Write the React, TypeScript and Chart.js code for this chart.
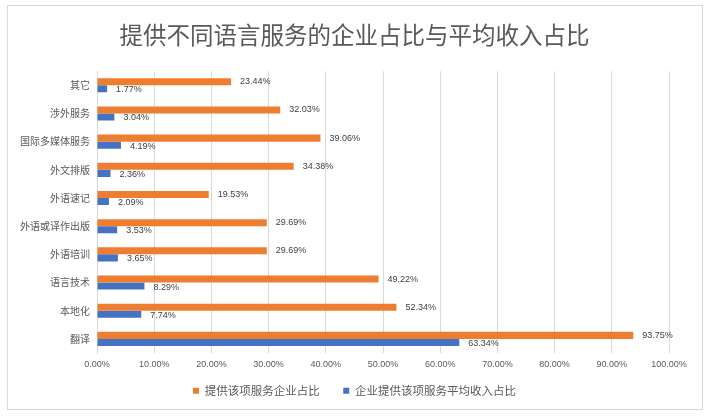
import React, { useEffect, useRef } from "react";
import { Chart, registerables } from "chart.js";

Chart.register(...registerables);

const title = "提供不同语言服务的企业占比与平均收入占比";
const categories = ["其它", "涉外服务", "国际多媒体服务", "外文排版", "外语速记", "外语或译作出版", "外语培训", "语言技术", "本地化", "翻译"];
const seriesNames = ["提供该项服务企业占比", "企业提供该项服务平均收入占比"];
const companyShare = [23.44, 32.03, 39.06, 34.38, 19.53, 29.69, 29.69, 49.22, 52.34, 93.75];
const revenueShare = [1.77, 3.04, 4.19, 2.36, 2.09, 3.53, 3.65, 8.29, 7.74, 63.34];
const xTicks = [0, 10, 20, 30, 40, 50, 60, 70, 80, 90, 100];

const NUM = "'Liberation Sans', sans-serif";
const CJK = "'Noto Sans CJK SC', 'Liberation Sans', sans-serif";

const dataLabels = {
  id: "dataLabels",
  afterDatasetsDraw(chart: any) {
    const ctx = chart.ctx;
    ctx.save();
    ctx.font = `9px ${NUM}`;
    ctx.fillStyle = "#404040";
    ctx.textAlign = "left";
    ctx.textBaseline = "middle";
    chart.data.datasets.forEach((ds: any, di: number) => {
      const meta = chart.getDatasetMeta(di);
      meta.data.forEach((el: any, i: number) => {
        const v = ds.data[i] as number;
        ctx.fillText(v.toFixed(2) + "%", el.x + 9, el.y + (di === 1 ? 1 : 0));
      });
    });
    ctx.restore();
  },
};

export default function App() {
  const ref = useRef<HTMLCanvasElement | null>(null);
  useEffect(() => {
    if (!ref.current) return;
    const chart = new Chart(ref.current, {
      type: "bar",
      data: {
        labels: categories,
        datasets: [
          { label: seriesNames[0], data: companyShare, backgroundColor: "#ED7D31", categoryPercentage: 0.5, barPercentage: 1 },
          { label: seriesNames[1], data: revenueShare, backgroundColor: "#4472C4", categoryPercentage: 0.5, barPercentage: 1 },
        ],
      },
      options: {
        animation: false,
        responsive: false,
        indexAxis: "y",
        layout: { padding: { left: 20, right: 22, top: 0, bottom: 10.5 } },
        scales: {
          x: {
            min: 0,
            max: 100,
            afterBuildTicks(scale: any) {
              scale.ticks = xTicks.map((v) => ({ value: v }));
            },
            afterFit(scale: any) {
              scale.height = 20;
            },
            ticks: {
              callback: (v: any) => Number(v).toFixed(2) + "%",
              font: { family: NUM, size: 9 },
              color: "#595959",
              padding: 6,
              maxRotation: 0,
            },
            grid: { color: "#d9d9d9", drawTicks: false },
            border: { display: false },
          },
          y: {
            afterFit(scale: any) {
              scale.width = 77;
            },
            ticks: { font: { family: CJK, size: 10 }, color: "#595959", padding: 7 },
            grid: { display: false, drawTicks: false },
            border: { display: true, color: "#d9d9d9" },
          },
          yRight: {
            type: "category",
            position: "right",
            display: true,
            afterFit(scale: any) {
              scale.width = 20;
            },
            ticks: { display: false },
            grid: { display: false, drawTicks: false },
            border: { display: false },
          },
        },
        plugins: {
          title: {
            display: true,
            text: title,
            font: { family: CJK, size: 23.5, weight: "normal" },
            color: "#595959",
            padding: { top: 21, bottom: 22 },
          },
          legend: {
            position: "bottom",
            labels: {
              boxWidth: 6,
              boxHeight: 6,
              padding: 12,
              font: { family: CJK, size: 11.5 },
              color: "#595959",
              generateLabels(chart: any) {
                const items = Chart.defaults.plugins.legend.labels.generateLabels(chart);
                items.forEach((it: any, i: number) => {
                  if (i === 0) it.text = it.text + "\u3000";
                  it.lineWidth = 0;
                });
                return items;
              },
            },
          },
          tooltip: { enabled: false },
        },
      },
      plugins: [dataLabels],
    } as any);
    return () => chart.destroy();
  }, []);
  return (
    <div style={{ position: "absolute", left: 0, top: 0, width: 711, height: 417, background: "#fff" }}>
      <div style={{ position: "absolute", left: 7, top: 5, width: 696, height: 405, border: "1px solid #d9d9d9", boxSizing: "border-box" }} />
      <canvas ref={ref} width={711} height={417} style={{ position: "absolute", left: 0, top: 0, width: 711, height: 417 }} />
    </div>
  );
}
